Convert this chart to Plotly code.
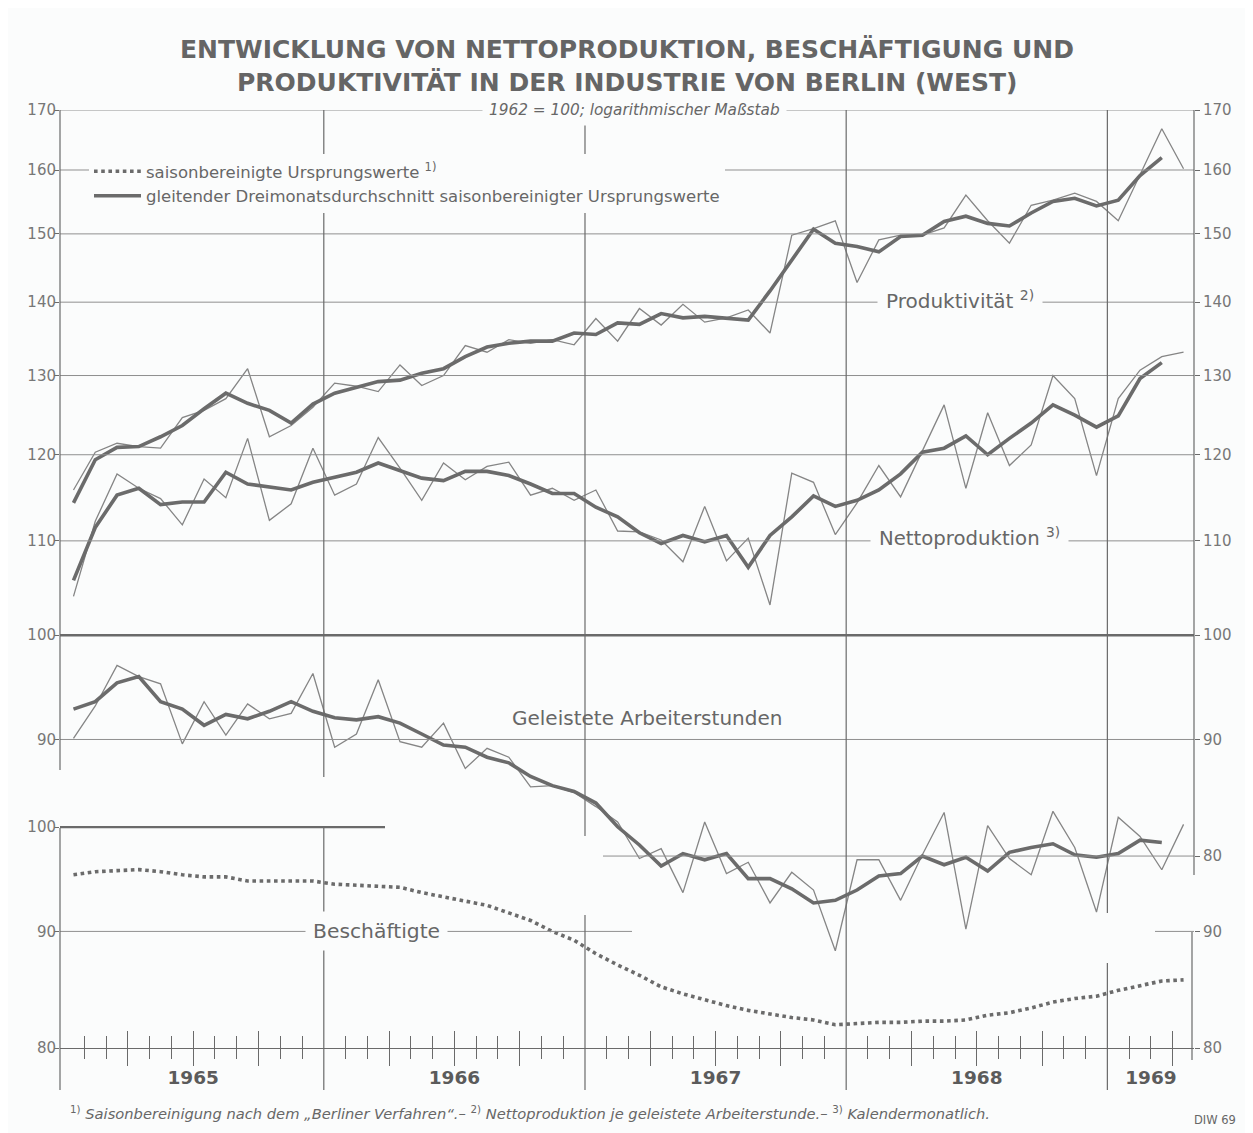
import plotly.graph_objects as go

# ---------------- data ----------------
months = list(range(52))                 # 0 = Jan 1965 ... 51 = Apr 1969
x_mid = [m + 0.5 for m in months]        # values are plotted mid-month
x_avg = x_mid[:51]                       # moving average ends Mar 1969

produktivitaet = [115.8, 120.3, 121.4, 121.0, 120.8, 124.6, 125.5, 127.0, 130.9, 122.2,
                  123.6, 125.9, 129.0, 128.6, 127.9, 131.4, 128.7, 130.0, 134.0, 133.1,
                  134.8, 134.3, 134.8, 134.1, 137.7, 134.6, 139.1, 136.8, 139.7, 137.2,
                  137.8, 138.9, 135.7, 149.8, 150.8, 152.0, 142.8, 149.1, 149.8, 149.8,
                  150.9, 156.0, 152.0, 148.6, 154.4, 155.2, 156.3, 155.0, 152.0, 159.1,
                  166.8, 160.2]
produktivitaet_avg = [114.3, 119.4, 120.9, 121.0, 122.2, 123.6, 125.7, 127.7, 126.4, 125.5,
                      123.9, 126.3, 127.7, 128.5, 129.2, 129.4, 130.3, 130.9, 132.5, 133.8,
                      134.3, 134.6, 134.6, 135.7, 135.5, 137.1, 136.9, 138.4, 137.8, 138.0,
                      137.8, 137.5, 141.6, 146.0, 150.7, 148.6, 148.1, 147.3, 149.6, 149.8,
                      151.9, 152.7, 151.6, 151.2, 153.2, 155.0, 155.5, 154.3, 155.2, 159.1,
                      162.0]
nettoproduktion = [104.0, 112.2, 117.7, 116.0, 114.8, 111.8, 117.1, 114.9, 122.0, 112.3,
                   114.2, 120.8, 115.2, 116.5, 122.1, 118.4, 114.6, 119.0, 117.0, 118.6,
                   119.1, 115.2, 116.0, 114.6, 115.8, 111.1, 111.0, 110.1, 107.7, 113.9,
                   107.8, 110.3, 103.1, 117.8, 116.7, 110.7, 114.3, 118.7, 115.0, 120.4,
                   126.2, 116.0, 125.2, 118.7, 121.2, 130.0, 127.0, 117.5, 127.0, 130.7,
                   132.5, 133.1]
nettoproduktion_avg = [105.7, 111.5, 115.2, 116.0, 114.1, 114.4, 114.4, 117.9, 116.5, 116.2,
                       115.8, 116.7, 117.3, 117.9, 119.0, 118.1, 117.2, 116.9, 118.0, 118.0,
                       117.5, 116.5, 115.4, 115.4, 113.8, 112.7, 110.9, 109.7, 110.6, 109.9,
                       110.6, 107.1, 110.6, 112.7, 115.1, 113.9, 114.6, 115.8, 117.7, 120.3,
                       120.8, 122.3, 120.0, 122.0, 123.9, 126.2, 124.9, 123.4, 124.8, 129.6,
                       131.7]
arbeiterstunden = [90.1, 93.1, 97.0, 95.9, 95.2, 89.6, 93.5, 90.4, 93.3, 91.9,
                   92.4, 96.2, 89.3, 90.5, 95.6, 89.8, 89.3, 91.5, 87.4, 89.2,
                   88.4, 85.8, 85.9, 85.3, 84.1, 82.8, 79.8, 80.6, 77.1, 82.8,
                   78.6, 79.5, 76.3, 78.7, 77.3, 72.7, 79.7, 79.7, 76.5, 80.1,
                   83.6, 74.3, 82.5, 79.8, 78.5, 83.7, 80.7, 75.6, 83.2, 81.6,
                   78.9, 82.6]
arbeiterstunden_avg = [92.8, 93.5, 95.3, 95.9, 93.5, 92.8, 91.3, 92.3, 91.9, 92.6,
                       93.5, 92.6, 92.0, 91.8, 92.1, 91.5, 90.5, 89.5, 89.3, 88.4,
                       87.9, 86.7, 85.9, 85.4, 84.4, 82.4, 80.9, 79.2, 80.2, 79.7,
                       80.2, 78.2, 78.2, 77.4, 76.3, 76.5, 77.3, 78.4, 78.6, 80.0,
                       79.3, 79.9, 78.8, 80.3, 80.7, 81.0, 80.1, 79.9, 80.2, 81.3,
                       81.1]
beschaeftigte = [95.3, 95.6, 95.7, 95.8, 95.6, 95.3, 95.1, 95.1, 94.7, 94.7,
                 94.7, 94.7, 94.4, 94.3, 94.2, 94.1, 93.6, 93.2, 92.8, 92.4,
                 91.7, 91.0, 90.0, 89.2, 88.0, 87.0, 86.1, 85.1, 84.5, 84.0,
                 83.5, 83.1, 82.8, 82.5, 82.3, 81.9, 82.0, 82.1, 82.1, 82.2,
                 82.2, 82.3, 82.7, 82.9, 83.3, 83.8, 84.1, 84.3, 84.8, 85.2,
                 85.6, 85.7]

year_labels = ["1965", "1966", "1967", "1968", "1969"]
year_label_pos = [6, 18, 30, 42, 50]
upper_ticks_left = [90, 100, 110, 120, 130, 140, 150, 160, 170]
upper_ticks_right = [80, 90, 100, 110, 120, 130, 140, 150, 160, 170]
lower_ticks_left = [80, 90, 100]
lower_ticks_right = [80, 90]

# ---------------- style / geometry ----------------
BG = "#fbfcfc"
TXT = "#676767"
GRID = "#8f8f8f"
DARK = "#6a6a6a"
THICK = "#6b6b6b"
THIN = "#858585"
FONT = "DejaVu Sans"

OFF = 8                       # page body margin of the html page
W, H = 1253 - OFF, 1133 - OFF
L, R, T, B = 60, 1194, 110, 1048   # plot area in screen pixels
PH = B - T
LOGSPAN = PH / 2279.0              # decades covered by the plot height
up_top = 2.23045
up_range = [up_top - LOGSPAN, up_top]
lo_bot = 1.90309
lo_range = [lo_bot, lo_bot + LOGSPAN]
X_RANGE = [-0.12, 51.98]


def py(y):
    return (B - y) / PH


def px(x):
    return (x - L) / (R - L)


fig = go.Figure()

# thin lines (seasonally adjusted raw values)
for ys in (produktivitaet, nettoproduktion, arbeiterstunden):
    fig.add_trace(go.Scatter(x=x_mid, y=ys, mode="lines", showlegend=False,
                             line=dict(color=THIN, width=1.3), hoverinfo="skip"))
# thick lines (3-month moving average)
for i, ys in enumerate((produktivitaet_avg, nettoproduktion_avg, arbeiterstunden_avg)):
    fig.add_trace(go.Scatter(x=x_avg, y=ys, mode="lines",
                             name="gleitender Dreimonatsdurchschnitt saisonbereinigter Ursprungswerte",
                             showlegend=(i == 0), legendrank=2,
                             line=dict(color=THICK, width=3.6), hoverinfo="skip"))
# employees (dotted) on the lower scale
fig.add_trace(go.Scatter(x=x_mid, y=beschaeftigte, mode="lines", yaxis="y2",
                         name="saisonbereinigte Ursprungswerte <sup>1)</sup>",
                         showlegend=True, legendrank=1,
                         line=dict(color=THICK, width=3.6, dash="dot"), hoverinfo="skip"))
# carriers for right-hand scales and tick axes (draw nothing)
fig.add_trace(go.Scatter(x=x_mid, y=produktivitaet, mode="none", xaxis="x2", yaxis="y3",
                         showlegend=False, hoverinfo="skip"))
fig.add_trace(go.Scatter(x=x_mid, y=beschaeftigte, mode="none", xaxis="x3", yaxis="y4",
                         showlegend=False, hoverinfo="skip"))

shapes = []


def hline(yval, yref, x0=0.0, x1=1.0, width=1.0, color=GRID):
    shapes.append(dict(type="line", xref="paper", yref=yref, x0=x0, x1=x1,
                       y0=yval, y1=yval, line=dict(color=color, width=width)))


def vline(xval, y0px, y1px, width=1.2, color=DARK, xref="x"):
    shapes.append(dict(type="line", xref=xref, yref="paper", x0=xval, x1=xval,
                       y0=py(y0px), y1=py(y1px), line=dict(color=color, width=width)))


for v in [110, 120, 130, 140, 150, 160, 170]:
    hline(v, "y")
hline(100, "y", width=2.4, color=DARK)
hline(90, "y")
hline(80, "y", x0=px(603))
hline(100, "y2", x1=px(385), width=2.4, color=DARK)
hline(90, "y2", x1=px(632))
hline(90, "y2", x0=px(1155))

# vertical axis / year lines (segments as in the reference)
vline(0, 110, 770, xref="paper")
vline(0, 828, 1090, xref="paper")
vline(12, 110, 777)
vline(12, 828, 1090)
vline(24, 110, 836)
vline(24, 915, 1090)
vline(36, 110, 1090)
vline(48, 110, 913)
vline(48, 963, 1090)
vline(1, 110, 875, xref="paper")
vline(px(1192), 932, 1060, xref="paper")
# page border
for bx in (7, 1248):
    shapes.append(dict(type="line", xref="paper", yref="paper", x0=px(bx), x1=px(bx),
                       y0=py(OFF), y1=py(1133), line=dict(color="#9a9a9a", width=1.5)))

ann = []


def text(x, y, s, size=20, xanchor="left", bg=None, color=TXT, family=FONT, pad=0, **kw):
    d = dict(xref="paper", yref="paper", x=px(x - pad if xanchor == "left" else x), y=py(y),
             text=s, showarrow=False, xanchor=xanchor, yanchor="middle",
             font=dict(size=size, color=color, family=family))
    if bg:
        d.update(bgcolor=bg, borderpad=pad)
    d.update(kw)
    ann.append(d)


text(627, 49, "<b>ENTWICKLUNG VON NETTOPRODUKTION, BESCHÄFTIGUNG UND</b>", size=25,
     xanchor="center", color="#656565")
text(627, 82, "<b>PRODUKTIVITÄT IN DER INDUSTRIE VON BERLIN (WEST)</b>", size=25,
     xanchor="center", color="#656565")
text(634, 110, "<i>1962 = 100; logarithmischer Maßstab</i>", size=15.3, xanchor="center",
     bg=BG, pad=6)
text(885, 300, "Produktivität <sup>2)</sup>", size=20, bg=BG, pad=8)
text(878, 537, "Nettoproduktion <sup>3)</sup>", size=19.7, bg=BG, pad=8)
text(510, 718, "Geleistete Arbeiterstunden", size=20)
text(312, 931, "Beschäftigte", size=20.3, bg=BG, pad=7)
text(68, 1112, "<sup>1)</sup> <i>Saisonbereinigung nach dem „Berliner Verfahren“.–</i> "
     "<sup>2)</sup> <i>Nettoproduktion je geleistete Arbeiterstunde.–</i> "
     "<sup>3)</sup> <i>Kalendermonatlich.</i>", size=14.7)
text(1238, 1120, "DIW 69", size=11.5, xanchor="right")

month_ticks = [m for m in range(1, 52) if m % 12 != 0]
short_ticks = [m for m in month_ticks if m % 3 != 0]
long_ticks = [m for m in month_ticks if m % 3 == 0]

common_y = dict(type="log", showgrid=False, zeroline=False, showline=False,
                tickmode="array", ticks="outside", ticklen=5, tickcolor=DARK, tickwidth=1.2,
                tickfont=dict(size=15, color="#777777", family=FONT))

fig.update_layout(
    width=W, height=H,
    margin=dict(l=L - OFF, r=W - (R - OFF), t=T - OFF, b=H - (B - OFF)),
    paper_bgcolor=BG, plot_bgcolor=BG,
    showlegend=True,
    legend=dict(x=px(89), y=py(154), xanchor="left", yanchor="top", bgcolor=BG,
                font=dict(size=16.5, color=TXT, family=FONT), itemwidth=47,
                tracegroupgap=0, traceorder="normal"),
    xaxis=dict(range=X_RANGE, showgrid=False, zeroline=False, showline=True,
               linecolor=DARK, linewidth=1.2,
               tickmode="array", tickvals=year_label_pos, ticktext=year_labels,
               ticks="outside", ticklen=13, tickcolor="rgba(0,0,0,0)",
               tickfont=dict(size=18.5, color="#5b5b5b", family="DejaVu Sans", weight="bold")),
    xaxis2=dict(range=X_RANGE, overlaying="x", anchor="y", showgrid=False, zeroline=False,
                showline=False, tickmode="array", tickvals=short_ticks, showticklabels=False,
                ticks="outside", ticklen=10, tickcolor=DARK, tickwidth=1.2,
                minor=dict(tickmode="array", tickvals=long_ticks, ticks="outside",
                           ticklen=17, tickcolor=DARK, tickwidth=1.2)),
    xaxis3=dict(range=X_RANGE, overlaying="x", anchor="y", showgrid=False, zeroline=False,
                showline=False, tickmode="array", tickvals=short_ticks, showticklabels=False,
                ticks="inside", ticklen=12, tickcolor=DARK, tickwidth=1.2,
                minor=dict(tickmode="array", tickvals=long_ticks, ticks="inside",
                           ticklen=17, tickcolor=DARK, tickwidth=1.2)),
    yaxis=dict(range=up_range, tickvals=upper_ticks_left, ticklabelstandoff=-5,
               ticktext=[str(v) for v in upper_ticks_left], anchor="x", **common_y),
    yaxis2=dict(range=lo_range, overlaying="y", side="left", anchor="x", ticklabelstandoff=-5,
                tickvals=lower_ticks_left, ticktext=[str(v) for v in lower_ticks_left], **common_y),
    yaxis3=dict(range=up_range, overlaying="y", side="right", anchor="x2",
                tickvals=upper_ticks_right, ticktext=[str(v) for v in upper_ticks_right], **common_y),
    yaxis4=dict(range=lo_range, overlaying="y", side="right", anchor="x3",
                tickvals=lower_ticks_right, ticktext=[str(v) for v in lower_ticks_right], **common_y),
    shapes=shapes,
    annotations=ann,
)

fig.write_html("out.html")
